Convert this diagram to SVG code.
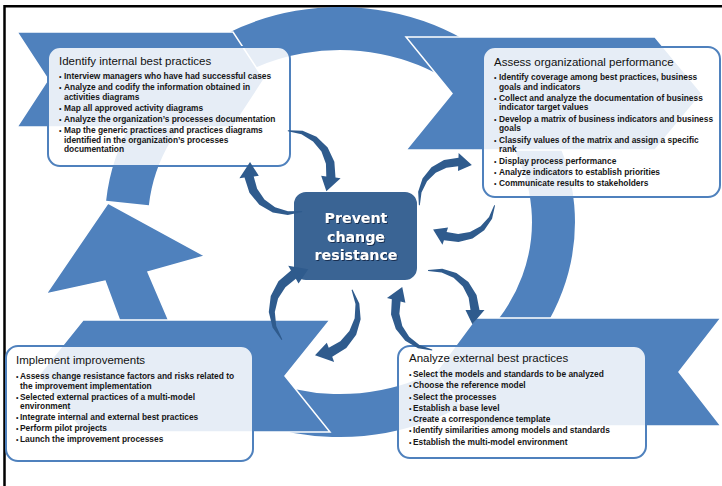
<svg xmlns="http://www.w3.org/2000/svg" width="722" height="486" viewBox="0 0 722 486">
<defs>
<style>
.frame{fill:none;stroke:#000;stroke-width:2.5}
.ring{fill:none;stroke:#4f81bd;stroke-width:43}
.blue{fill:#4f81bd;stroke:#fff;stroke-width:1.5;stroke-linejoin:miter}
.box{fill:#fff;fill-opacity:0.86;stroke:#4f81bd;stroke-width:2}
.ttl{font-family:"Liberation Sans",Arial,sans-serif;font-size:11.5px;fill:#111}
.itm{font-family:"Liberation Sans",Arial,sans-serif;font-size:8.4px;font-weight:bold;fill:#161616}
.dot{font-family:"Liberation Sans",Arial,sans-serif;font-size:7px;fill:#161616}
.core{fill:#3a6494;stroke:#fff;stroke-width:2}
.coretxt{font-family:"DejaVu Sans",Verdana,sans-serif;font-size:14.2px;font-weight:bold;fill:#fff;text-anchor:middle}
.sa{fill:#2f5b8d}
</style>
<filter id="sh" x="-10%" y="-20%" width="130%" height="150%">
<feDropShadow dx="1" dy="1" stdDeviation="0.6" flood-color="#10243d" flood-opacity="0.8"/>
</filter>
<!-- tapered clockwise arrow on a radius-40 circle, tail at 0deg, tip at about 120deg -->
<path id="cw" d="M40.5 0 L39.28 14.3 L32.78 27.51 L21.8 37.76 L7.67 43.53 L-7.73 43.82 L-8.59 48.75 L-20.6 34.29 L-5.29 30.04 L-6.16 34.96 L6.21 35.26 L18.2 31.52 L28.5 23.91 L35.9 13.06 L39.5 0 Z"/>
</defs>

<!-- page frame -->
<path class="frame" d="M4.5 486 V6.2 H722"/>

<!-- large cycle: ring band, up-arrow on the left and the four chevrons -->
<g id="cycle">
<path class="ring" d="M127.5 203 A213.5 193.5 0 1 1 250 397.5"/>
<path class="blue" d="M125 335 L105 281 L46 294 L108 203 L205 256 L148 272 L175 335 Z"/>
<polygon class="blue" points="17,32 233,32 264,79.5 233,127 17,127 48,79.5"/>
<polygon class="blue" points="406,37 655,37 702,93.5 655,150 406,150 452,93.5"/>
<polygon class="blue" points="476,318 721,318 679,372 721,426 476,426 436,372"/>
<polygon class="blue" points="83,320 330,320 285,376 330,432 83,432 38,376"/>
</g>

<g id="identify-internal">
<rect class="box" x="48" y="47" width="242" height="119" rx="12"/>
<text class="ttl" x="59" y="65">Identify internal best practices</text>
<text class="dot"><tspan x="59" y="79">•</tspan><tspan x="59" y="90">•</tspan><tspan x="59" y="111">•</tspan><tspan x="59" y="122">•</tspan><tspan x="59" y="133">•</tspan></text>
<text class="itm">
<tspan x="64" y="79">Interview managers who have had successful cases</tspan>
<tspan x="64" y="90">Analyze and codify the information obtained in</tspan>
<tspan x="64" y="99.5">activities diagrams</tspan>
<tspan x="64" y="111">Map all approved activity diagrams</tspan>
<tspan x="64" y="122">Analyze the organization’s processes documentation</tspan>
<tspan x="64" y="133">Map the generic practices and practices diagrams</tspan>
<tspan x="64" y="142.5">identified in the organization’s processes</tspan>
<tspan x="64" y="152">documentation</tspan>
</text>
</g>

<g id="assess-performance">
<rect class="box" x="483" y="47" width="237" height="150" rx="12"/>
<text class="ttl" x="494" y="66">Assess organizational performance</text>
<text class="dot"><tspan x="494" y="80">•</tspan><tspan x="494" y="101">•</tspan><tspan x="494" y="121.5">•</tspan><tspan x="494" y="142.5">•</tspan><tspan x="494" y="164">•</tspan><tspan x="494" y="175">•</tspan><tspan x="494" y="185.5">•</tspan></text>
<text class="itm">
<tspan x="499" y="80">Identify coverage among best practices, business</tspan>
<tspan x="499" y="89.5">goals and indicators</tspan>
<tspan x="499" y="101">Collect and analyze the documentation of business</tspan>
<tspan x="499" y="110">indicator target values</tspan>
<tspan x="499" y="121.5">Develop a matrix of business indicators and business</tspan>
<tspan x="499" y="131">goals</tspan>
<tspan x="499" y="142.5">Classify values of the matrix and assign a specific</tspan>
<tspan x="499" y="152">rank</tspan>
<tspan x="499" y="164">Display process performance</tspan>
<tspan x="499" y="175">Analyze indicators to establish priorities</tspan>
<tspan x="499" y="185.5">Communicate results to stakeholders</tspan>
</text>
</g>

<g id="implement-improvements">
<rect class="box" x="6" y="346" width="247" height="115" rx="12"/>
<text class="ttl" x="16" y="364">Implement improvements</text>
<text class="dot"><tspan x="16" y="378.5">•</tspan><tspan x="16" y="399.5">•</tspan><tspan x="16" y="419.5">•</tspan><tspan x="16" y="430.5">•</tspan><tspan x="16" y="442">•</tspan></text>
<text class="itm">
<tspan x="20" y="378.5">Assess change resistance factors and risks related to</tspan>
<tspan x="20" y="388.5">the improvement implementation</tspan>
<tspan x="20" y="399.5">Selected external practices of a multi-model</tspan>
<tspan x="20" y="408.5">environment</tspan>
<tspan x="20" y="419.5">Integrate internal and external best practices</tspan>
<tspan x="20" y="430.5">Perform pilot projects</tspan>
<tspan x="20" y="442">Launch the improvement processes</tspan>
</text>
</g>

<g id="analyze-external">
<rect class="box" x="398" y="346" width="248" height="112" rx="12"/>
<text class="ttl" x="409" y="362">Analyze external best practices</text>
<text class="dot"><tspan x="409" y="377">•</tspan><tspan x="409" y="388.3">•</tspan><tspan x="409" y="399.7">•</tspan><tspan x="409" y="410.8">•</tspan><tspan x="409" y="422">•</tspan><tspan x="409" y="433.3">•</tspan><tspan x="409" y="444.5">•</tspan></text>
<text class="itm">
<tspan x="413" y="377">Select the models and standards to be analyzed</tspan>
<tspan x="413" y="388.3">Choose the reference model</tspan>
<tspan x="413" y="399.7">Select the processes</tspan>
<tspan x="413" y="410.8">Establish a base level</tspan>
<tspan x="413" y="422">Create a correspondence template</tspan>
<tspan x="413" y="433.3">Identify similarities among models and standards</tspan>
<tspan x="413" y="444.5">Establish the multi-model environment</tspan>
</text>
</g>

<g id="prevent-resistance">
<rect class="core" x="293" y="191" width="125" height="90" rx="13"/>
<text class="coretxt" filter="url(#sh)"><tspan x="356" y="223.3">Prevent</tspan><tspan x="356" y="241.5">change</tspan><tspan x="356" y="259.5">resistance</tspan></text>
</g>

<!-- small circular arrows between the hub and the stages -->
<g id="connectors" class="sa">
<use href="#cw" transform="translate(290 172) rotate(-93) scale(1.03)"/>
<use href="#cw" transform="translate(290 172) rotate(73) scale(1.03)"/>
<use href="#cw" transform="translate(457 200) rotate(172) scale(0.95)"/>
<use href="#cw" transform="translate(457 200) rotate(8) scale(0.95)"/>
<use href="#cw" transform="translate(435 310) rotate(260)"/>
<use href="#cw" transform="translate(435 310) rotate(94)"/>
<use href="#cw" transform="translate(315 312) rotate(140) scale(1.08)"/>
<use href="#cw" transform="translate(315 312) rotate(329) scale(1.08)"/>
</g>
</svg>
